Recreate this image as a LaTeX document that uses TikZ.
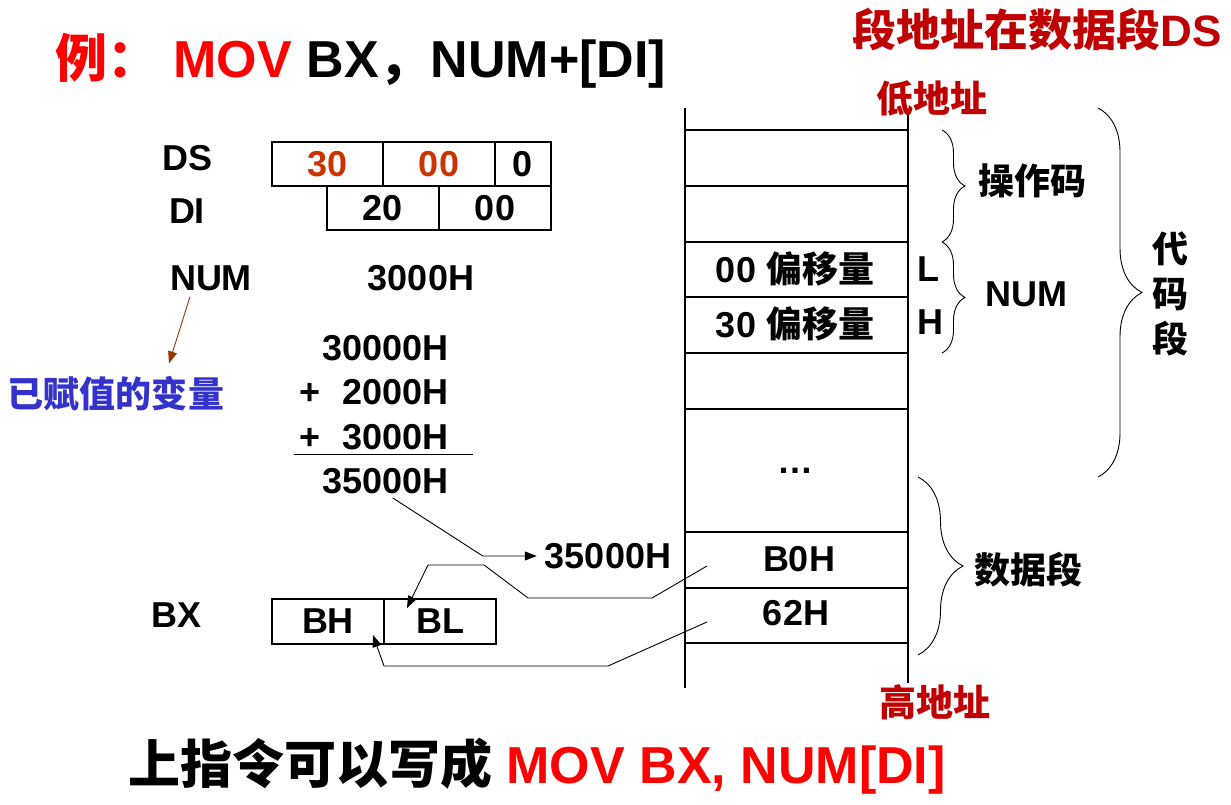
\documentclass[tikz,border=0pt]{standalone}
\usepackage{fontspec}
\setmainfont{Liberation Sans}
\newfontfamily\cjk{Noto Sans CJK SC}
\usetikzlibrary{arrows.meta,decorations.pathreplacing,calc}
\definecolor{darkred}{HTML}{C00000}
\definecolor{hired}{HTML}{FF0000}
\definecolor{valred}{HTML}{CC3300}
\definecolor{arrbrown}{HTML}{993300}
\definecolor{varblue}{HTML}{3333CC}
\newcommand{\zh}[1]{{\cjk #1}}

\begin{document}
\begin{tikzpicture}[
    x=1pt, y=1pt,
    lbl/.style={font=\bfseries\fontsize{36}{40}\selectfont, inner sep=0pt},
    zh/.style={font=\cjk\bfseries\fontsize{36}{45}\selectfont, inner sep=0pt},
    hdr/.style={font=\cjk\bfseries\fontsize{37}{40}\selectfont, inner sep=0pt, text=darkred},
    cell/.style={lbl, draw, line width=1.1pt, minimum height=44pt, outer sep=0pt},
    conn/.style={->, line width=0.9pt},
    brc/.style={decorate, decoration={brace, amplitude=#1}, line width=0.9pt},
    >={Triangle[length=12pt,width=9pt]}
]
\useasboundingbox (0,0) rectangle (1231,-805);

% titles
\node[anchor=base west, inner sep=0pt, font=\bfseries\fontsize{52}{60}\selectfont] (title) at (55,-78)
    {\textcolor{hired}{\zh{例：} MOV} BX\zh{，}NUM+[DI]};
\node[anchor=base east, inner sep=0pt, font=\bfseries\fontsize{44}{50}\selectfont, text=darkred] (seg) at (1222,-47)
    {\zh{段地址在数据段}DS};
\node[anchor=base west, inner sep=0pt, font=\bfseries\fontsize{52}{60}\selectfont] (note) at (128,-783)
    {\zh{上指令可以写成} \textcolor{hired}{MOV BX, NUM[DI]}};

% registers
\node[lbl] (ds) at (188,-158) {DS};
\node[lbl] (di) at (187,-211) {DI};
\node[cell, minimum width=111pt, text=valred] (ds30) at (327.5,-164) {30};
\node[cell, minimum width=112pt, text=valred] (ds00) at (439,-164) {00};
\node[cell, minimum width=56pt] (ds0) at (523,-164) {0};
\node[cell, minimum width=112pt] (di20) at (383,-208) {20};
\node[cell, minimum width=112pt] (di00) at (495,-208) {00};

\node[lbl] (num) at (211,-278) {NUM};
\node[lbl] (numval) at (421,-278) {3000H};
\node[zh, text=varblue] (var) at (116,-394) {已赋值的变量};
\draw[->, arrbrown, line width=0.9pt] ([xshift=-21pt,yshift=-6pt]num.south) -- ([xshift=53pt,yshift=13pt]var.north);

% address sum
\node[lbl, anchor=east] (base) at (449,-348) {30000H};
\node[lbl, anchor=east] (addi) at (449,-392) {+\hspace{22pt}2000H};
\node[lbl, anchor=east] (addn) at (449,-437) {+\hspace{22pt}3000H};
\draw[line width=1pt] (294,-454) -- (473,-454);
\node[lbl, anchor=east] (sum) at (449,-481) {35000H};
\node[lbl] (addr) at (608,-556) {35000H};
\draw[conn] ([xshift=7pt,yshift=-4pt]sum.south) -- ($(addr.west)+(-62,0)$) -- ([xshift=-8pt]addr.west);

\node[lbl] (bx) at (177,-615) {BX};
\node[cell, minimum width=112pt, minimum height=45pt] (bh) at (328,-621.5) {BH};
\node[cell, minimum width=112pt, minimum height=45pt] (bl) at (440,-621.5) {BL};

% memory
\draw[line width=1.1pt] (685,-108) -- (685,-688);
\draw[line width=1.1pt] (908,-110) -- (908,-683);
\foreach \y in {130,186,242,297,353,409,532,588,643}
    \draw[line width=1.1pt] (685,-\y) -- (908,-\y);
\node[hdr] (low) at (932,-98) {低地址};
\node[hdr] (high) at (935,-702) {高地址};

\node[lbl] (off00) at (795,-269) {00 \zh{偏移量}};
\node[lbl] (off30) at (795,-324) {30 \zh{偏移量}};
\node[lbl] (lo) at (928,-269) {L};
\node[lbl] (hi) at (930,-322) {H};
\node[lbl] (dots) at (795,-471) {\textellipsis};
\node[lbl] (b0h) at (799,-559) {B0H};
\node[lbl] (m62) at (796,-613) {62H};

\coordinate (b0src) at (707,-566);
\coordinate (h62src) at (707,-622);
\draw[conn] (b0src) -- ++(-55,-32) -- ++(-124,0) -- ++(-44,33) -- ++(-56,0)
    -- ([xshift=23pt,yshift=-9pt]bl.north west);
\draw[conn] (h62src) -- ++(-99,-44) -- ++(-224,0) -- ([xshift=-11pt,yshift=9pt]bh.south east);

% braces
\draw[brc=23] (942,-130) -- (942,-242);
\draw[brc=23] (942,-242) -- (942,-353);
\draw[brc=44] (1098,-108) -- (1098,-477);
\draw[brc=45] (918,-477) -- (918,-655);
\node[zh] (opc) at (1032,-181) {操作码};
\node[lbl] (numr) at (1026,-294) {NUM};
\node[zh, align=center] (code) at (1170,-294) {代\\码\\段};
\node[zh] (data) at (1028,-570) {数据段};
\end{tikzpicture}
\end{document}
